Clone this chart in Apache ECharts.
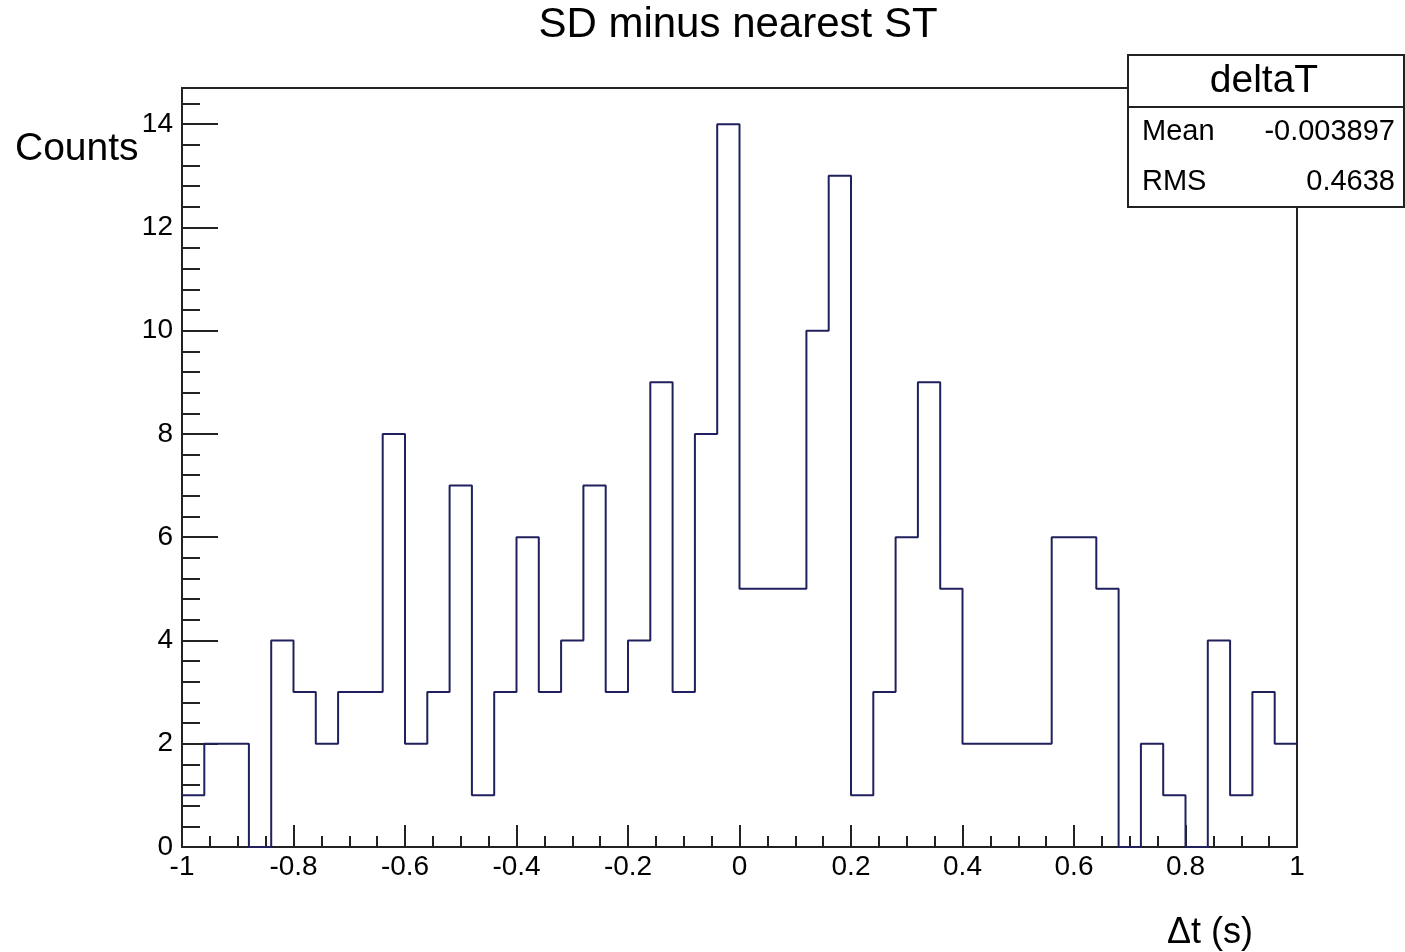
<!DOCTYPE html>
<html>
<head>
<meta charset="utf-8">
<script src="https://cdn.jsdelivr.net/npm/echarts@6/dist/echarts.min.js"></script>
<style>
  html, body { margin: 0; padding: 0; background: #fff; }
  #chart { width: 1405px; height: 952px; }
</style>
</head>
<body>
<div id="chart"></div>
<script>
// histogram deltaT: 50 bins from -1 to 1
const binLow = -1;
const binWidth = 0.04;
const counts = [
  1, 2, 2, 0, 4, 3, 2, 3, 3, 8,
  2, 3, 7, 1, 3, 6, 3, 4, 7, 3,
  4, 9, 3, 8, 14, 5, 5, 5, 10, 13,
  1, 3, 6, 9, 5, 2, 2, 2, 2, 6,
  6, 5, 0, 2, 1, 0, 4, 1, 3, 2
];
const yMajorTicks = [0, 2, 4, 6, 8, 10, 12, 14];
const statsName = 'deltaT';
const statsRows = [['Mean', '-0.003897'], ['RMS', '0.4638']];

const FONT = 'Liberation Sans';
const lineColor = '#20205e';

// step outline: left edge of every bin, plus the right edge of the last one
let stepData = counts.map((c, i) => [+(binLow + i * binWidth).toFixed(2), c]);
stepData.push([+(binLow + counts.length * binWidth).toFixed(2), counts[counts.length - 1]]);

// minor y ticks every 0.4 (5 per major)
let yMinorTicks = [];
for (let k = 0; k * 0.4 <= 14.7; k++) {
  if (k % 5 !== 0) yMinorTicks.push(+(k * 0.4).toFixed(1));
}

const myChart = echarts.init(document.getElementById('chart'));

let statsEls = [
  { type: 'rect', z: 100, shape: { x: 1128, y: 55, width: 276, height: 152 },
    style: { fill: '#fff', stroke: '#222', lineWidth: 2 } },
  { type: 'line', z: 101, shape: { x1: 1128, y1: 107, x2: 1404, y2: 107 },
    style: { stroke: '#222', lineWidth: 2 } },
  { type: 'text', z: 101, x: 1264, y: 81,
    style: { text: statsName, font: '39px ' + FONT, fill: '#000', textAlign: 'center', textVerticalAlign: 'middle' } }
];
statsRows.forEach((row, i) => {
  const y = 132 + i * 50;
  statsEls.push({ type: 'text', z: 101, x: 1142, y: y,
    style: { text: row[0], font: '29px ' + FONT, fill: '#000', textAlign: 'left', textVerticalAlign: 'middle' } });
  statsEls.push({ type: 'text', z: 101, x: 1395, y: y,
    style: { text: row[1], font: '29px ' + FONT, fill: '#000', textAlign: 'right', textVerticalAlign: 'middle' } });
});

let option = {
  backgroundColor: '#fff',
  animation: false,
  grid: {
    left: 182, right: 108, top: 88, bottom: 105,
    show: true, borderColor: '#222', borderWidth: 2, backgroundColor: 'transparent'
  },
  xAxis: {
    type: 'value',
    min: -1, max: 1, interval: 0.2,
    splitLine: { show: false },
    axisLine: { onZero: false, lineStyle: { color: '#222', width: 2 } },
    axisTick: { inside: true, length: 22, lineStyle: { color: '#222', width: 2 } },
    minorTick: { show: true, splitNumber: 4, length: 11, lineStyle: { color: '#222', width: 2 } },
    axisLabel: { fontFamily: FONT, fontSize: 28, color: '#000', margin: 6 }
  },
  yAxis: [
    {
      type: 'value',
      min: 0, max: 14.7,
      splitLine: { show: false },
      axisLine: { show: true, onZero: false, lineStyle: { color: '#222', width: 2 } },
      axisTick: { inside: true, length: 36, customValues: yMajorTicks, lineStyle: { color: '#222', width: 2 } },
      axisLabel: { fontFamily: FONT, fontSize: 28, color: '#000', margin: 9, customValues: yMajorTicks }
    },
    {
      type: 'value',
      position: 'left',
      min: 0, max: 14.7,
      splitLine: { show: false },
      axisLine: { show: false, onZero: false },
      axisTick: { show: true, inside: true, length: 18, customValues: yMinorTicks, lineStyle: { color: '#222', width: 2 } },
      axisLabel: { show: false }
    }
  ],
  series: [
    {
      name: 'deltaT',
      type: 'line',
      step: 'end',
      symbol: 'none',
      yAxisIndex: 0,
      lineStyle: { color: lineColor, width: 2 },
      data: stepData
    }
  ],
  graphic: [
    { type: 'text', z: 50, x: 738, y: 25,
      style: { text: 'SD minus nearest ST', font: '42px ' + FONT, fill: '#000', textAlign: 'center', textVerticalAlign: 'middle' } },
    { type: 'text', z: 50, x: 15, y: 149,
      style: { text: 'Counts', font: '39px ' + FONT, fill: '#000', textAlign: 'left', textVerticalAlign: 'middle' } },
    { type: 'text', z: 50, x: 1167, y: 933,
      style: { text: 'Δt (s)', font: '36px ' + FONT, fill: '#000', textAlign: 'left', textVerticalAlign: 'middle' } }
  ].concat(statsEls)
};
myChart.setOption(option);
</script>
</body>
</html>
